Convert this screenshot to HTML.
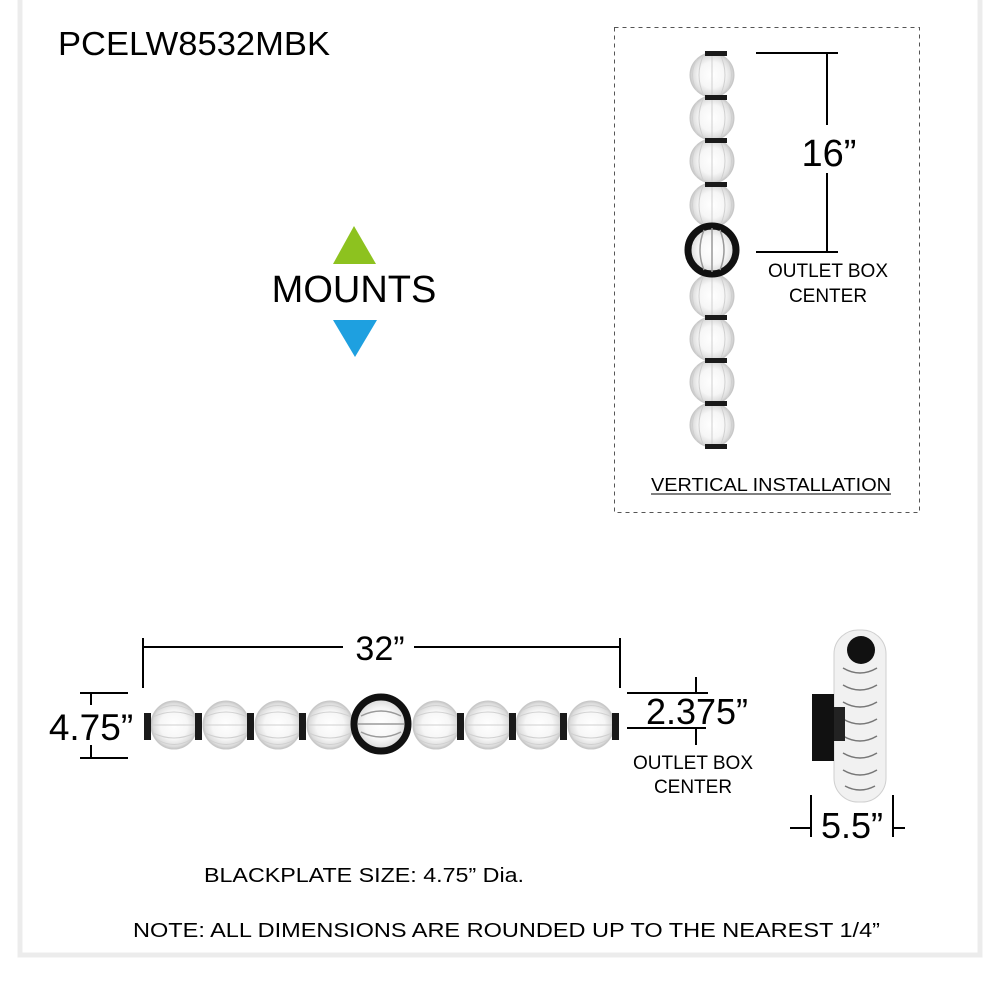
<!DOCTYPE html>
<html><head><meta charset="utf-8"><style>
html,body{margin:0;padding:0;background:#fff;}
svg{display:block;font-family:"Liberation Sans",Arial,sans-serif;}
</style></head><body>
<svg width="1000" height="1000" viewBox="0 0 1000 1000" xmlns="http://www.w3.org/2000/svg">
<defs>
<radialGradient id="bg" cx="50%" cy="50%" r="50%">
<stop offset="0" stop-color="#ffffff"/><stop offset="0.6" stop-color="#f6f6f6"/><stop offset="0.9" stop-color="#dcdcdc"/><stop offset="1" stop-color="#c4c4c4"/>
</radialGradient>
<g id="bv">
<ellipse cx="0" cy="0" rx="22" ry="22" fill="url(#bg)" stroke="#c8c8c8" stroke-width="1"/>
<path d="M-8,-21 Q-18,0 -8,21 M0,-22 L0,22 M8,-21 Q18,0 8,21 M-15,-16 Q-24,0 -15,16 M15,-16 Q24,0 15,16" fill="none" stroke="#d0d0d0" stroke-width="1"/>
</g>
<g id="bh">
<ellipse cx="0" cy="0" rx="23" ry="24" fill="url(#bg)" stroke="#c8c8c8" stroke-width="1"/>
<path d="M-21,-8 Q0,-18 21,-8 M-22,0 L22,0 M-21,8 Q0,18 21,8 M-16,-15 Q0,-24 16,-15 M-16,15 Q0,24 16,15" fill="none" stroke="#d0d0d0" stroke-width="1"/>
</g>
</defs>
<rect x="0" y="0" width="1000" height="1000" fill="#fff"/>
<rect x="20" y="-8" width="960" height="963" fill="none" stroke="#ececec" stroke-width="5"/>

<text x="58" y="55" font-size="33" textLength="272" lengthAdjust="spacingAndGlyphs">PCELW8532MBK</text>

<polygon points="354,226 376,264 333,264" fill="#8dc21f"/>
<text x="354" y="302" font-size="38" text-anchor="middle">MOUNTS</text>
<polygon points="333,320 377,320 355,357" fill="#1ea0e0"/>

<!-- vertical installation -->
<rect x="614.5" y="27.5" width="305" height="485" fill="none" stroke="#555" stroke-width="1" stroke-dasharray="4,4"/>
<use href="#bv" x="712" y="75"/><use href="#bv" x="712" y="118"/><use href="#bv" x="712" y="161"/><use href="#bv" x="712" y="205"/>
<use href="#bv" x="712" y="296"/><use href="#bv" x="712" y="339"/><use href="#bv" x="712" y="382"/><use href="#bv" x="712" y="425"/>
<g fill="#1a1a1a">
<rect x="705" y="51" width="22" height="5"/><rect x="705" y="95" width="22" height="5"/><rect x="705" y="138" width="22" height="5"/><rect x="705" y="182" width="22" height="5"/>
<rect x="705" y="315" width="22" height="5"/><rect x="705" y="358" width="22" height="5"/><rect x="705" y="401" width="22" height="5"/><rect x="705" y="444" width="22" height="5"/>
</g>
<circle cx="712" cy="250" r="24" fill="url(#bg)" stroke="#111" stroke-width="7"/>
<path d="M704,230 Q696,250 704,270 M712,228 L712,272 M720,230 Q728,250 720,270" fill="none" stroke="#999" stroke-width="1.5"/>
<g stroke="#000" stroke-width="2">
<line x1="756" y1="53" x2="838" y2="53"/><line x1="756" y1="252" x2="838" y2="252"/>
<line x1="827" y1="53" x2="827" y2="125"/><line x1="827" y1="173" x2="827" y2="252"/>
</g>
<text x="829" y="166" font-size="38" text-anchor="middle">16”</text>
<text x="828" y="277" font-size="19" text-anchor="middle">OUTLET BOX</text>
<text x="828" y="302" font-size="19" text-anchor="middle">CENTER</text>
<text x="651" y="491" font-size="18" textLength="240" lengthAdjust="spacingAndGlyphs">VERTICAL INSTALLATION</text>
<line x1="651" y1="494" x2="891" y2="494" stroke="#000" stroke-width="1"/>

<!-- horizontal -->
<use href="#bh" x="174" y="725"/><use href="#bh" x="226" y="725"/><use href="#bh" x="278" y="725"/><use href="#bh" x="330" y="725"/>
<use href="#bh" x="436" y="725"/><use href="#bh" x="488" y="725"/><use href="#bh" x="539" y="725"/><use href="#bh" x="591" y="725"/>
<g fill="#1a1a1a">
<rect x="144" y="713" width="7" height="27"/><rect x="195" y="713" width="7" height="27"/><rect x="247" y="713" width="7" height="27"/><rect x="299" y="713" width="7" height="27"/>
<rect x="457" y="713" width="7" height="27"/><rect x="509" y="713" width="7" height="27"/><rect x="560" y="713" width="7" height="27"/><rect x="612" y="713" width="7" height="27"/>
</g>
<circle cx="381" cy="724" r="27" fill="url(#bg)" stroke="#111" stroke-width="7"/>
<path d="M361,716 Q381,706 401,716 M358,724 L404,724 M361,732 Q381,742 401,732" fill="none" stroke="#999" stroke-width="1.5"/>
<g stroke="#000" stroke-width="2">
<line x1="143" y1="647" x2="343" y2="647"/><line x1="414" y1="647" x2="620" y2="647"/>
<line x1="143" y1="638" x2="143" y2="688"/><line x1="620" y1="638" x2="620" y2="688"/>
<line x1="80" y1="693" x2="128" y2="693"/><line x1="80" y1="758" x2="128" y2="758"/>
<line x1="91" y1="693" x2="91" y2="705"/><line x1="91" y1="745" x2="91" y2="758"/>
<line x1="627" y1="693" x2="708" y2="693"/><line x1="627" y1="728" x2="706" y2="728"/>
<line x1="696" y1="677" x2="696" y2="693"/><line x1="696" y1="728" x2="696" y2="745"/>
</g>
<text x="380" y="660" font-size="34" text-anchor="middle">32”</text>
<text x="91" y="740" font-size="37" text-anchor="middle">4.75”</text>
<text x="697" y="724" font-size="36" text-anchor="middle">2.375”</text>
<text x="693" y="769" font-size="19" text-anchor="middle">OUTLET BOX</text>
<text x="693" y="793" font-size="19" text-anchor="middle">CENTER</text>

<!-- side view -->
<rect x="834" y="630" width="52" height="172" rx="24" fill="#f1f1f1" stroke="#cfcfcf" stroke-width="1"/>
<g fill="none" stroke="#777" stroke-width="1.5">
<path d="M843,668 Q860,678 877,668"/><path d="M843,685 Q860,695 877,685"/><path d="M843,702 Q860,712 877,702"/><path d="M843,719 Q860,729 877,719"/><path d="M843,736 Q860,746 877,736"/><path d="M843,753 Q860,763 877,753"/><path d="M843,770 Q860,780 877,770"/><path d="M845,786 Q860,794 875,786"/>
</g>
<circle cx="861" cy="650" r="14" fill="#111"/>
<rect x="812" y="694" width="22" height="67" fill="#111"/>
<rect x="834" y="707" width="11" height="34" fill="#222"/>
<g stroke="#000" stroke-width="2">
<line x1="811" y1="795" x2="811" y2="837"/><line x1="893" y1="795" x2="893" y2="837"/>
<line x1="790" y1="828" x2="811" y2="828"/><line x1="893" y1="828" x2="905" y2="828"/>
</g>
<text x="852" y="838" font-size="36" text-anchor="middle">5.5”</text>

<text x="204" y="882" font-size="20" textLength="320" lengthAdjust="spacingAndGlyphs">BLACKPLATE SIZE: 4.75” Dia.</text>
<text x="133" y="937" font-size="20" textLength="747" lengthAdjust="spacingAndGlyphs">NOTE: ALL DIMENSIONS ARE ROUNDED UP TO THE NEAREST 1/4”</text>
</svg>
</body></html>
